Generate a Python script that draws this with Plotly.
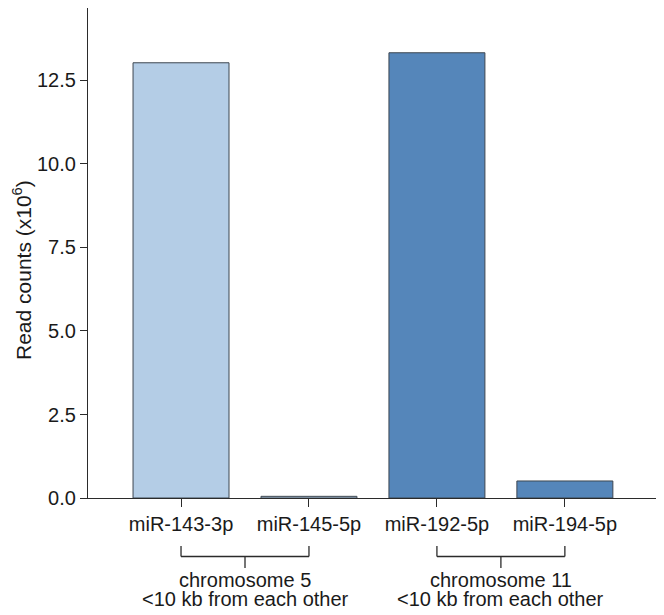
import plotly.graph_objects as go

categories = ["miR-143-3p", "miR-145-5p", "miR-192-5p", "miR-194-5p"]
values = [13.03, 0.05, 13.33, 0.51]
bar_colors = ["#b4cde6", "#b4cde6", "#5586ba", "#5586ba"]
y_ticks = [0, 2.5, 5, 7.5, 10, 12.5]
y_tick_labels = ["0.0", "2.5", "5.0", "7.5", "10.0", "12.5"]
groups = [
    {"from": 0, "to": 1, "lines": ["chromosome 5", "&lt;10 kb from each other"]},
    {"from": 2, "to": 3, "lines": ["chromosome 11", "&lt;10 kb from each other"]},
]

FONT = "Liberation Sans, Arial, sans-serif"
AX = "#2b2b2b"
TXT = "#1a1a1a"
FS = 20

# the page body adds an 8px offset; the figure is sized so it ends at the window edge
OFF = 8
W, H = 664 - OFF, 615 - OFF
ML, MT, MR = 88 - OFF, 0, 7
PLOT_BOTTOM = 498 - OFF
MB = H - PLOT_BOTTOM
PH = float(H - MT - MB)

fig = go.Figure(go.Bar(
    x=list(range(len(categories))), y=values,
    marker=dict(color=bar_colors, line=dict(color="#3d4650", width=1)),
    width=0.75,
))

shapes = []
annotations = []
y_top, y_mid, y_tip = -48 / PH, -58.5 / PH, -70 / PH
line_y = [-82 / PH, -101 / PH]
for g in groups:
    a, b = g["from"], g["to"]
    line = dict(color=AX, width=1.3)
    shapes += [
        dict(type="line", xref="x", yref="paper", x0=a, x1=b, y0=y_mid, y1=y_mid, line=line),
        dict(type="line", xref="x", yref="paper", x0=a, x1=a, y0=y_top, y1=y_mid, line=line),
        dict(type="line", xref="x", yref="paper", x0=b, x1=b, y0=y_top, y1=y_mid, line=line),
        dict(type="line", xref="x", yref="paper", x0=(a + b) / 2, x1=(a + b) / 2, y0=y_mid, y1=y_tip, line=line),
    ]
    for txt, yy in zip(g["lines"], line_y):
        annotations.append(dict(
            x=(a + b) / 2, xref="x", y=yy, yref="paper", yanchor="middle",
            text=txt, showarrow=False, align="center",
            font=dict(family=FONT, size=FS, color=TXT),
        ))

annotations.append(dict(
    x=0, xref="paper", xshift=-66, y=(498 - 270) / PH, yref="paper", text="Read counts (x10<sup>6</sup>)",
    textangle=-90, showarrow=False, font=dict(family=FONT, size=21, color=TXT),
    xanchor="center", yanchor="middle",
))

fig.update_layout(
    template="none",
    width=W, height=H,
    margin=dict(l=ML, r=MR, t=MT, b=MB, pad=0, autoexpand=False),
    paper_bgcolor="white", plot_bgcolor="white",
    showlegend=False,
    shapes=shapes, annotations=annotations,
    font=dict(family=FONT, size=FS, color=TXT),
    xaxis=dict(
        range=[-0.727, 3.72], tickmode="array", tickvals=list(range(len(categories))),
        ticktext=categories, showline=True, linecolor=AX, linewidth=1.3,
        ticks="outside", ticklen=8, tickcolor=AX, tickwidth=1.3,
        showgrid=False, zeroline=False, automargin=False,
        tickfont=dict(family=FONT, size=FS, color=TXT),
    ),
    yaxis=dict(
        range=[0, 14.67], tickmode="array", tickvals=y_ticks, ticktext=y_tick_labels,
        showline=True, linecolor=AX, linewidth=1.3,
        ticks="outside", ticklen=7, tickcolor=AX, tickwidth=1.3,
        showgrid=False, zeroline=False, automargin=False,
        tickfont=dict(family=FONT, size=FS, color=TXT),
    ),
)

fig.write_html("out.html")
